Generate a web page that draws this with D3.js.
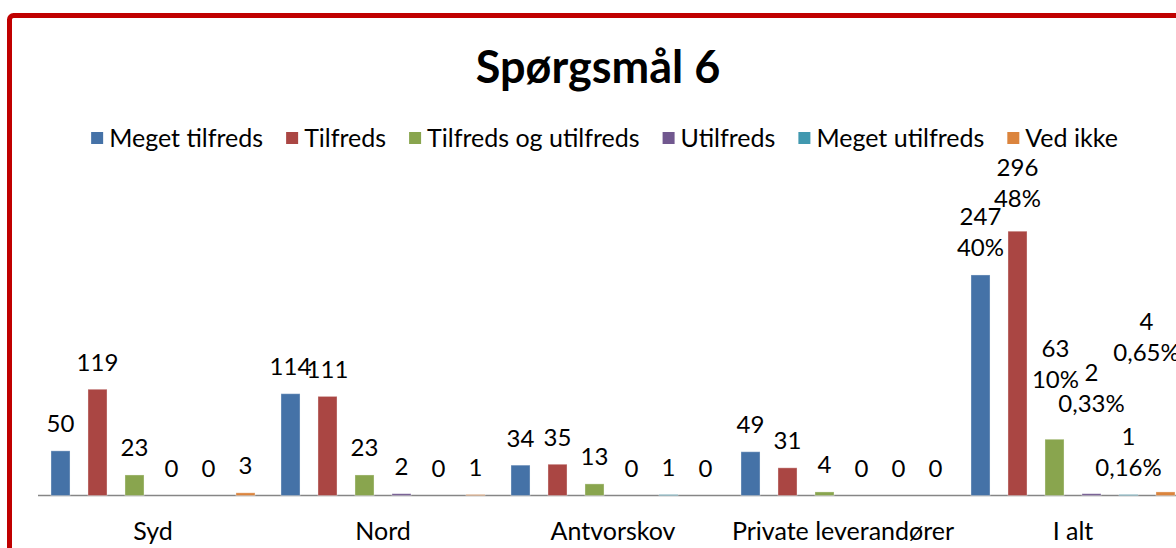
<!DOCTYPE html>
<html><head><meta charset="utf-8">
<script src="https://cdn.jsdelivr.net/npm/d3@7"></script>
<style>body{margin:0;background:#fff;overflow:hidden}svg{display:block}text{font-family:Lato,"Open Sans",sans-serif;fill:#000}</style>
</head><body><svg id="c" width="1176" height="548"></svg>
<script>
const categories = ["Syd", "Nord", "Antvorskov", "Private leverandører", "I alt"];
const seriesNames = ["Meget tilfreds", "Tilfreds", "Tilfreds og utilfreds", "Utilfreds", "Meget utilfreds", "Ved ikke"];
const megetTilfreds = [50, 114, 34, 49, 247];
const tilfreds = [119, 111, 35, 31, 296];
const tilfredsOgUtilfreds = [23, 23, 13, 4, 63];
const utilfreds = [0, 2, 0, 0, 2];
const megetUtilfreds = [0, 0, 1, 0, 1];
const vedIkke = [3, 1, 0, 0, 4];
const totalPercents = ["40%", "48%", "10%", "0,33%", "0,16%", "0,65%"];
const colors = ["#4572A7", "#AA4643", "#89A54E", "#71588F", "#4198AF", "#DB843D"];
// label nudges for the "I alt" group (style only)
const totalShiftY = [0, -6, -33, -63, 0, -112];
const totalShiftX = [0, 0, 1, 0, 0, -19];

const values = [megetTilfreds, tilfreds, tilfredsOgUtilfreds, utilfreds, megetUtilfreds, vedIkke];
const svg = d3.select("#c");

// frame
svg.append("rect").attr("x", 9.5).attr("y", 15.5).attr("width", 1300).attr("height", 700)
  .attr("rx", 4).attr("fill", "#fff").attr("stroke", "#C00000").attr("stroke-width", 5);

svg.append("text").attr("x", 598).attr("y", 83).attr("text-anchor", "middle")
  .attr("font-weight", "bold").attr("font-size", 45).text("Spørgsmål 6");

const x0 = d3.scaleBand().domain(categories).range([38, 1188]);
const x1 = d3.scaleBand().domain(seriesNames).range([4, x0.bandwidth() - 4]);
const y = d3.scaleLinear().domain([0, 350]).range([495.5, 183]);
const bw = x1.bandwidth() * 0.514;
const boff = (x1.bandwidth() - bw) / 2;

// legend
const lg = svg.append("g");
const fsL = 25;
const gap = 23;
let lx = 0;
seriesNames.forEach((s, i) => {
  const g = lg.append("g");
  g.append("rect").attr("x", 0).attr("y", -6).attr("width", 12).attr("height", 12).attr("fill", colors[i]);
  const t = g.append("text").attr("x", 18).attr("y", 0).attr("dy", "0.35em").attr("font-size", fsL).text(s);
  const w = 18 + t.node().getComputedTextLength();
  g.attr("transform", `translate(${lx},138)`);
  lx += w + gap;
});
lx -= gap;
lg.attr("transform", `translate(${604.5 - lx / 2},0)`);

// axis baseline
svg.append("line").attr("x1", 38).attr("x2", 1188).attr("y1", 495.5).attr("y2", 495.5)
  .attr("stroke", "#868686").attr("stroke-width", 1.5);

const groups = svg.selectAll("g.cat").data(categories).join("g").attr("class", "cat")
  .attr("transform", d => `translate(${x0(d)},0)`);

seriesNames.forEach((s, si) => {
  groups.append("rect")
    .attr("x", x1(s) + boff)
    .attr("width", bw)
    .attr("y", (d, ci) => y(values[si][ci]))
    .attr("height", (d, ci) => y(0) - y(values[si][ci]))
    .attr("fill", colors[si])
    .attr("stroke", (d, ci) => values[si][ci] > 0 ? "rgba(255,255,255,0.35)" : "none")
    .attr("stroke-width", 1);
});

const fsV = 24;
categories.forEach((c, ci) => {
  seriesNames.forEach((s, si) => {
    const v = values[si][ci];
    const cx = x0(c) + x1(s) + x1.bandwidth() / 2;
    const top = y(v);
    if (c !== "I alt") {
      svg.append("text").attr("x", cx).attr("y", top - 27).attr("dy", "0.35em")
        .attr("text-anchor", "middle").attr("font-size", fsV).text(v);
    } else {
      const px = cx + totalShiftX[si];
      const py = top - 27 + totalShiftY[si];
      svg.append("text").attr("x", px).attr("y", py).attr("dy", "0.35em")
        .attr("text-anchor", "middle").attr("font-size", fsV).text(totalPercents[si]);
      svg.append("text").attr("x", px).attr("y", py - 31).attr("dy", "0.35em")
        .attr("text-anchor", "middle").attr("font-size", fsV).text(v);
    }
  });
});

// category labels
categories.forEach(c => {
  svg.append("text").attr("x", x0(c) + x0.bandwidth() / 2).attr("y", 540)
    .attr("text-anchor", "middle").attr("font-size", 25).text(c);
});
</script></body></html>
